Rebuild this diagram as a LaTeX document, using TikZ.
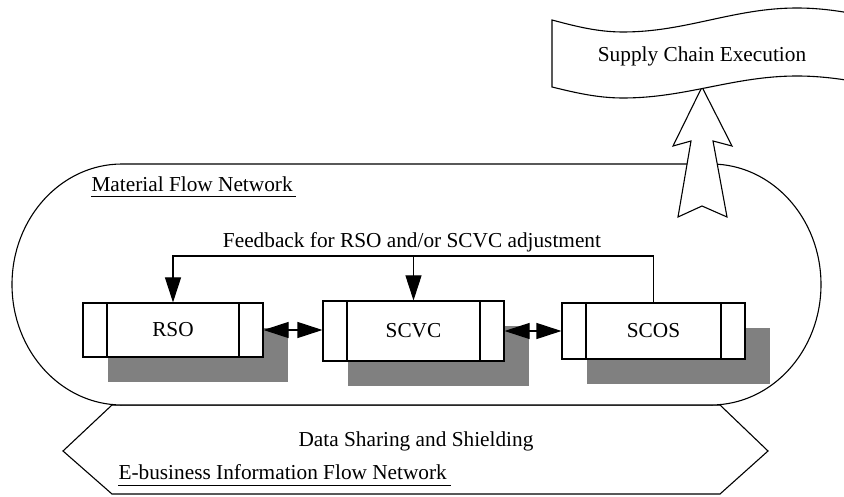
\documentclass[tikz,border=0pt]{standalone}
\usepackage{fontspec}
\setmainfont{Liberation Serif}
\usetikzlibrary{arrows.meta,shadows}
\begin{document}
\begin{tikzpicture}[x=1pt,y=1pt,line width=1.1pt,
  font=\fontsize{21.3}{25}\selectfont,
  outline/.style={draw=black,line width=1.1pt,fill=white},
  txt/.style={inner sep=0pt},
  procbox/.style={draw,fill=white,line width=1.1pt,inner sep=0pt,
    general shadow={fill=black!50,shadow xshift=25pt,shadow yshift=-25pt},
    path picture={
      \draw[line width=1.1pt]
        ([xshift=24pt]path picture bounding box.north west) --
        ([xshift=24pt]path picture bounding box.south west)
        ([xshift=-24pt]path picture bounding box.north east) --
        ([xshift=-24pt]path picture bounding box.south east);}},
  tip/.style={-{Triangle[length=25pt,width=16pt]}},
  twotips/.style={{Triangle[length=25pt,width=16pt]}-{Triangle[length=25pt,width=16pt]}}]
\useasboundingbox (0,0) rectangle (844,496);

% information flow layer (hexagon)
\draw[outline,line join=miter] (112,91) -- (63,45) -- (112,2) -- (720,2) -- (768,45) -- (720,91) -- cycle;
\node[txt,anchor=base] (dss) at (416,50) {Data Sharing and Shielding};
\node[txt,anchor=base west] (ebn) at (118,17) {E-business Information Flow Network};
\draw[line width=1pt] ([yshift=-6pt]ebn.base west) -- ([xshift=4pt,yshift=-6pt]ebn.base east);

% material flow layer (stadium)
\draw[outline] (122,332) -- (711,332)
  arc[start angle=90,end angle=-90,x radius=110,y radius=120.5]
  -- (122,91)
  arc[start angle=270,end angle=90,x radius=110,y radius=120.5] -- cycle;
\node[txt,anchor=base west] (mfn) at (91,304) {Material Flow Network};
\draw[line width=1pt] ([yshift=-5pt]mfn.base west) -- ([xshift=3pt,yshift=-5pt]mfn.base east);

% process boxes
\node[procbox,minimum width=180pt,minimum height=54pt] (rso) at (173,166) {RSO};
\node[procbox,minimum width=181pt,minimum height=60pt] (scvc) at (413.5,165) {SCVC};
\node[procbox,minimum width=183pt,minimum height=56pt] (scos) at (653.5,165) {SCOS};

\draw[twotips] (rso.east) -- (rso.east -| scvc.west);
\draw[twotips] (scvc.east) -- (scos.west);

% feedback loop
\coordinate (fb) at (0,240);
\node[txt,anchor=base] (fbt) at (412,248) {Feedback for RSO and/or SCVC adjustment};
\draw[tip] (scos.north) -- (scos.north |- fb) -- (rso.north |- fb) -- (rso.north);
\draw[tip] (scvc.north |- fb) -- (scvc.north);

% hollow block arrow up to execution
\draw[outline,line join=miter] (702,409) -- (732,350) -- (713,355) -- (727,279)
  -- (702,290) -- (678,279) -- (691,355) -- (673,350) -- cycle;

% execution banner
\begin{scope}
\clip (0,0) rectangle (844,496);
\draw[outline] (552,409) -- (552,476) sin (623,464) cos (710,476) sin (797,488)
  cos (884,476) -- (884,409) sin (797,420) cos (710,409) sin (623,398) cos (552,409) -- cycle;
\end{scope}
\node[txt,anchor=base] (sce) at (702,434) {Supply Chain Execution};
\end{tikzpicture}
\end{document}
